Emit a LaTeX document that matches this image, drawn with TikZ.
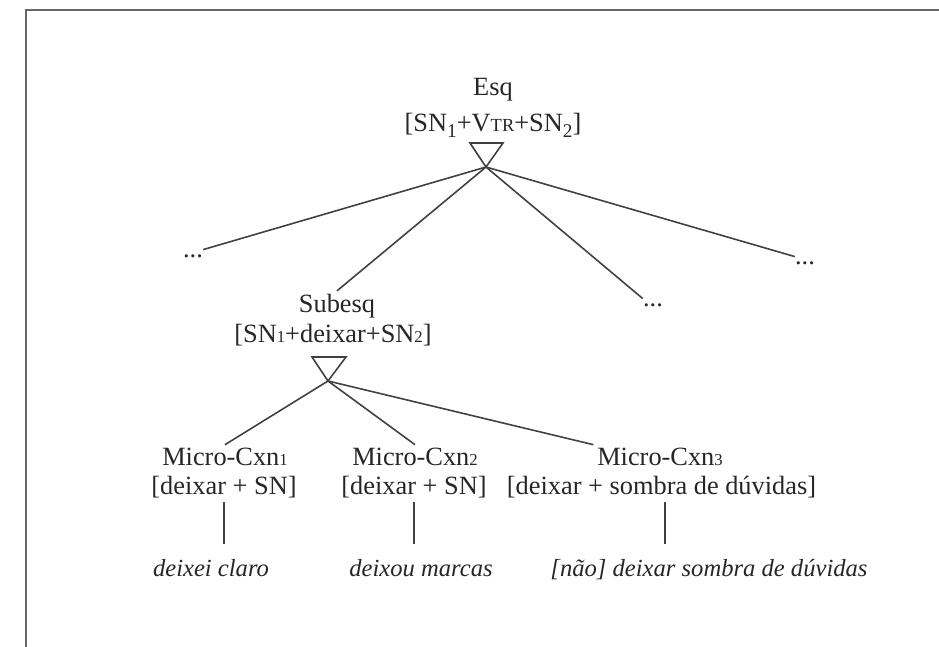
\documentclass[tikz,border=0pt]{standalone}
\usepackage{fontspec}
\setmainfont{Liberation Serif}
\usetikzlibrary{positioning}

\newcommand{\lowdig}[1]{{\fontsize{9.5}{9.5}\selectfont #1}}
\newcommand{\subdig}[1]{\raisebox{-0.45ex}{\fontsize{11}{11}\selectfont #1}}

\begin{document}
\begin{tikzpicture}[
  lbl/.style={font=\fontsize{15}{18}\selectfont,text=black!85,anchor=base,inner sep=2pt},
  ex/.style={font=\fontsize{14}{17}\selectfont\itshape,text=black!85,anchor=base,inner sep=2pt},
  dots/.style={font=\fontsize{15}{18}\selectfont,text=black!85,anchor=base,inner sep=0pt,text height=1ex},
  edge/.style={draw=black!75,line width=0.9pt}
]
\useasboundingbox (0,0) rectangle (18.78,-12.94);
\draw[black!60,line width=1.2pt] (0.52,-12.94) -- (0.52,-0.2) -- (18.9,-0.2);

\node[lbl] (esq) at (9.86,-1.92) {Esq};
\node[lbl] (esqform) at (9.86,-2.64) {{[}SN\subdig{1}+V{\fontsize{10.5}{10.5}\selectfont TR}+SN\subdig{2}]};
\draw[edge] (9.40,-2.86) -- (10.06,-2.86) -- (9.72,-3.34) coordinate (esqtip) -- cycle;

\node[dots] (dotsL) at (3.86,-5.16) {...};
\node[dots] (dotsM) at (13.06,-6.14) {...};
\node[dots] (dotsR) at (16.10,-5.30) {...};

\node[lbl] (subesq) at (6.74,-6.26) {Subesq};
\node[lbl] (subform) at (6.66,-6.86) {{[}SN\lowdig{1}+deixar+SN\lowdig{2}]};
\draw[edge] (6.24,-7.14) -- (6.92,-7.14) -- (6.56,-7.62) coordinate (subtip) -- cycle;

\draw[edge] (esqtip) -- (dotsL.north east);
\draw[edge] (esqtip) -- (subesq.north);
\draw[edge] (esqtip) -- (dotsM.north west);
\draw[edge] (esqtip) -- (dotsR.north west);

\node[lbl] (micro1) at (4.50,-9.32) {Micro-Cxn\lowdig{1}};
\node[lbl] (form1) at (4.48,-9.90) {{[}deixar + SN]};
\node[lbl] (micro2) at (8.30,-9.32) {Micro-Cxn\lowdig{2}};
\node[lbl] (form2) at (8.28,-9.90) {{[}deixar + SN]};
\node[lbl] (micro3) at (13.20,-9.32) {Micro-Cxn\lowdig{3}};
\node[lbl] (form3) at (13.23,-9.90) {{[}deixar + sombra de dúvidas]};

\draw[edge] (subtip) -- (micro1.north);
\draw[edge] (subtip) -- (micro2.north);
\draw[edge] (subtip) -- (micro3.north west);

\node[ex] (ex1) at (4.22,-11.54) {deixei claro};
\node[ex] (ex2) at (8.42,-11.54) {deixou marcas};
\node[ex] (ex3) at (14.18,-11.54) {[não] deixar sombra de dúvidas};

\draw[edge,shorten >=7pt] (form1.south) -- (form1.south |- ex1.north);
\draw[edge,shorten >=7pt] (form2.south) -- (form2.south |- ex2.north);
\draw[edge,shorten >=7pt] ([xshift=2pt]form3.south) -- ([xshift=2pt]form3.south |- ex3.north);

\end{tikzpicture}
\end{document}
